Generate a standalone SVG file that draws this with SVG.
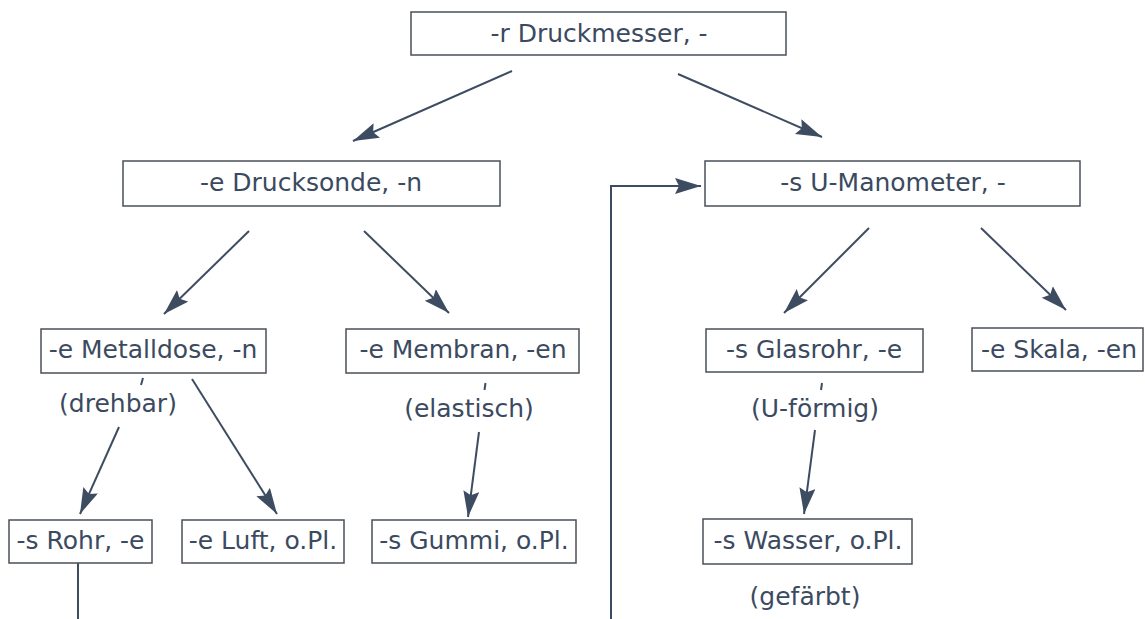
<svg xmlns="http://www.w3.org/2000/svg" width="1145" height="619" viewBox="0 0 1145 619">
<style>
.box{fill:#ffffff;stroke:#4a4f58;stroke-width:1.5}
.t{font-family:"DejaVu Sans","Liberation Sans",sans-serif;font-size:25px;fill:#3b4a60;text-anchor:middle}
.c{stroke:#3e4c62;stroke-width:2;fill:none}
.a{marker-end:url(#ah)}
</style>
<defs>
<marker id="ah" markerUnits="userSpaceOnUse" markerWidth="28" markerHeight="18" refX="26" refY="8" orient="auto">
<path d="M0,0 L26,8 L0,16 L4,8 z" fill="#3e4c62"/>
</marker>
</defs>
<rect width="1145" height="619" fill="#ffffff"/>
<g id="connectors">
<line class="c a" x1="512" y1="71" x2="353" y2="141"/>
<line class="c a" x1="678" y1="74" x2="822" y2="137"/>
<line class="c a" x1="249" y1="231" x2="164" y2="314"/>
<line class="c a" x1="364" y1="231" x2="449" y2="313"/>
<line class="c a" x1="869" y1="228" x2="784" y2="313"/>
<line class="c a" x1="981" y1="228" x2="1066" y2="310"/>
<line class="c a" x1="119" y1="427" x2="80" y2="514"/>
<line class="c a" x1="192" y1="379" x2="277" y2="514"/>
<line class="c a" x1="479" y1="432" x2="468" y2="517"/>
<line class="c a" x1="815" y1="430" x2="804" y2="514"/>
<line class="c" x1="78" y1="563" x2="78" y2="619"/>
<polyline class="c a" points="611,619 611,186 701,186"/>
<line class="c" x1="143" y1="378" x2="141" y2="385" stroke-width="1.3"/>
<line class="c" x1="485.5" y1="383" x2="484.5" y2="390" stroke-width="1.3"/>
<line class="c" x1="822" y1="383" x2="821" y2="390" stroke-width="1.3"/>
</g>
<g id="n-druckmesser"><rect class="box" x="411" y="12" width="375" height="43"/><text class="t" x="599" y="42">-r Druckmesser, -</text></g>
<g id="n-drucksonde"><rect class="box" x="123" y="161" width="377" height="45"/><text class="t" x="311" y="191">-e Drucksonde, -n</text></g>
<g id="n-umanometer"><rect class="box" x="705" y="161" width="375" height="45"/><text class="t" x="893" y="191">-s U-Manometer, -</text></g>
<g id="n-metalldose"><rect class="box" x="41" y="329" width="225" height="44"/><text class="t" x="153" y="358">-e Metalldose, -n</text></g>
<g id="n-membran"><rect class="box" x="346" y="329" width="233" height="44"/><text class="t" x="463" y="358">-e Membran, -en</text></g>
<g id="n-glasrohr"><rect class="box" x="706" y="329" width="217" height="43"/><text class="t" x="814" y="358">-s Glasrohr, -e</text></g>
<g id="n-skala"><rect class="box" x="972" y="328" width="171" height="43"/><text class="t" x="1059" y="358">-e Skala, -en</text></g>
<g id="n-rohr"><rect class="box" x="9" y="520" width="143" height="43"/><text class="t" x="80.5" y="549">-s Rohr, -e</text></g>
<g id="n-luft"><rect class="box" x="182" y="520" width="162" height="43"/><text class="t" x="263" y="549">-e Luft, o.Pl.</text></g>
<g id="n-gummi"><rect class="box" x="372" y="520" width="204" height="43"/><text class="t" x="474" y="549">-s Gummi, o.Pl.</text></g>
<g id="n-wasser"><rect class="box" x="703" y="519" width="209" height="45"/><text class="t" x="808" y="549">-s Wasser, o.Pl.</text></g>
<g id="labels">
<text class="t" x="118" y="412">(drehbar)</text>
<text class="t" x="469" y="417">(elastisch)</text>
<text class="t" x="815" y="417">(U-förmig)</text>
<text class="t" x="805" y="605">(gefärbt)</text>
</g>
</svg>
